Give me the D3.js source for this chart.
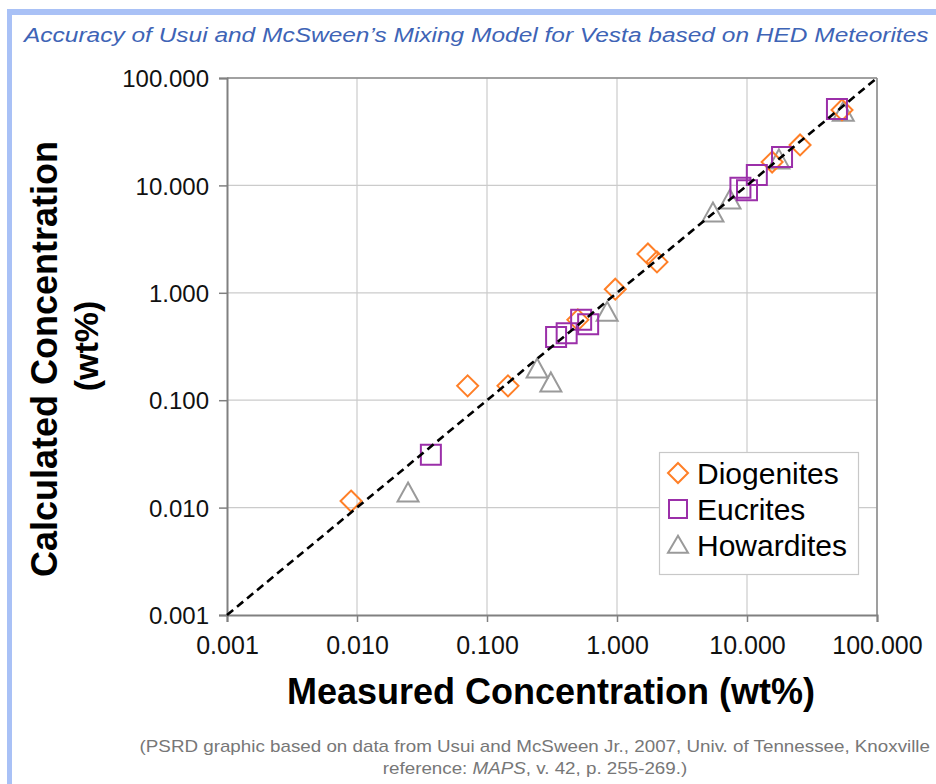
<!DOCTYPE html>
<html>
<head>
<meta charset="utf-8">
<script src="https://cdn.jsdelivr.net/npm/d3@7/dist/d3.min.js"></script>
<style>
  html, body { margin: 0; padding: 0; background: #fff; }
  svg { display: block; font-family: "Liberation Sans", Arial, sans-serif; }
</style>
</head>
<body>
<svg id="chart" width="936" height="784"></svg>
<script>
// ---- Data ----
const tickValues = [0.001, 0.01, 0.1, 1, 10, 100];
const tickLabels = ["0.001", "0.010", "0.100", "1.000", "10.000", "100.000"];

const diogenitesMeasured   = [0.009, 0.071, 0.145, 0.50, 0.97, 1.73, 2.03, 15.6, 25.6, 53.8];
const diogenitesCalculated = [0.0115, 0.136, 0.136, 0.56, 1.08, 2.30, 1.94, 16.5, 23.8, 50.4];

const eucritesMeasured   = [0.037, 0.34, 0.41, 0.53, 0.60, 8.9, 10.0, 11.9, 18.6, 49.2];
const eucritesCalculated = [0.031, 0.387, 0.42, 0.56, 0.51, 9.5, 9.0, 12.5, 18.4, 51.4];

const howarditesMeasured   = [0.0247, 0.243, 0.31, 0.84, 5.47, 7.4, 17.6, 55];
const howarditesCalculated = [0.0137, 0.195, 0.145, 0.66, 5.53, 7.31, 17.3, 48];

const oneToOne = [0.001, 100];

const seriesNames = ["Diogenites", "Eucrites", "Howardites"];

// ---- Build ----
const svg = d3.select("#chart");
const x = d3.scaleLog().domain([0.001, 100]).range([227, 877]);
const y = d3.scaleLog().domain([0.001, 100]).range([615, 78]);

// page frame (light blue)
svg.append("rect").attr("x", 7).attr("y", 9).attr("width", 929).attr("height", 6).attr("fill", "#a9c1f6");
svg.append("rect").attr("x", 7).attr("y", 9).attr("width", 5).attr("height", 775).attr("fill", "#a9c1f6");

// title (horizontally stretched like the original graphic)
svg.append("g").attr("transform", "translate(24,42) scale(1.166,1)")
  .append("text")
  .attr("x", 0).attr("y", 0)
  .attr("font-size", 21).attr("font-style", "italic")
  .attr("fill", "#3e64b6")
  .text("Accuracy of Usui and McSween\u2019s Mixing Model for Vesta based on HED Meteorites");

// gridlines
const grid = svg.append("g");
grid.selectAll("line.gx").data(tickValues.slice(1)).join("line")
  .attr("x1", d => x(d)).attr("x2", d => x(d))
  .attr("y1", y(0.001)).attr("y2", y(100))
  .attr("stroke", "#cbcbcb").attr("stroke-width", 1.2);
grid.selectAll("line.gy").data(tickValues.slice(1)).join("line")
  .attr("y1", d => y(d)).attr("y2", d => y(d))
  .attr("x1", x(0.001)).attr("x2", x(100))
  .attr("stroke", "#cbcbcb").attr("stroke-width", 1.2);

// frame top/right
svg.append("line").attr("x1", x(0.001)).attr("x2", x(100)).attr("y1", y(100)).attr("y2", y(100))
  .attr("stroke", "#8a8a8a").attr("stroke-width", 1.5);
svg.append("line").attr("x1", x(100)).attr("x2", x(100)).attr("y1", y(100)).attr("y2", y(0.001))
  .attr("stroke", "#8a8a8a").attr("stroke-width", 1.5);

// axes
const fmt = d => tickLabels[tickValues.indexOf(d)];
const xAxis = d3.axisBottom(x).tickValues(tickValues).tickFormat(fmt).tickSize(7).tickPadding(14);
const yAxis = d3.axisLeft(y).tickValues(tickValues).tickFormat(fmt).tickSize(8).tickPadding(10);

const gx = svg.append("g").attr("transform", `translate(0,${y(0.001)})`).call(xAxis);
const gy = svg.append("g").attr("transform", `translate(${x(0.001)},0)`).call(yAxis);
[gx, gy].forEach(g => {
  g.select(".domain").attr("stroke", "#808080").attr("stroke-width", 2);
  g.selectAll(".tick line").attr("stroke", "#808080").attr("stroke-width", 1.5);
  g.selectAll(".tick text").attr("font-size", 24).attr("fill", "#111")
    .attr("font-family", "'Liberation Sans', Arial, sans-serif");
});
gy.selectAll(".tick text").attr("dy", "0.36em");
gx.selectAll(".tick text").attr("font-size", 25);

// axis titles
svg.append("text")
  .attr("x", 551).attr("y", 704)
  .attr("text-anchor", "middle").attr("font-size", 36).attr("font-weight", "bold").attr("fill", "#000")
  .text("Measured Concentration (wt%)");
svg.append("text")
  .attr("transform", "translate(57,359) rotate(-90)")
  .attr("text-anchor", "middle").attr("font-size", 36).attr("font-weight", "bold").attr("fill", "#000")
  .text("Calculated Concentration");
svg.append("text")
  .attr("transform", "translate(98,346) rotate(-90)")
  .attr("text-anchor", "middle").attr("font-size", 34).attr("font-weight", "bold").attr("fill", "#000")
  .text("(wt%)");

// markers
const colors = { Diogenites: "#ff7f27", Eucrites: "#9b2fa9", Howardites: "#9a9a9a" };
function diamondPath(r) { return `M0,${-r}L${r},0L0,${r}L${-r},0Z`; }
function squarePath(h) { return `M${-h},${-h}H${h}V${h}H${-h}Z`; }
function trianglePath(w, h) { return `M0,${-h * 0.55}L${w / 2},${h * 0.45}L${-w / 2},${h * 0.45}Z`; }
const shapes = {
  Diogenites: diamondPath(10.5),
  Eucrites: squarePath(10),
  Howardites: trianglePath(21, 19)
};

const dioData = diogenitesMeasured.map((m, i) => ({ m, c: diogenitesCalculated[i] }));
const eucData = eucritesMeasured.map((m, i) => ({ m, c: eucritesCalculated[i] }));
const howData = howarditesMeasured.map((m, i) => ({ m, c: howarditesCalculated[i] }));

function drawSeries(data, name) {
  svg.append("g").selectAll("path").data(data).join("path")
    .attr("transform", d => `translate(${x(d.m)},${y(d.c)})`)
    .attr("d", shapes[name])
    .attr("fill", "none")
    .attr("stroke", colors[name])
    .attr("stroke-width", 2);
}
drawSeries(howData, "Howardites");
drawSeries(dioData, "Diogenites");
drawSeries(eucData, "Eucrites");

// 1:1 line
svg.append("line")
  .attr("x1", x(oneToOne[0])).attr("y1", y(oneToOne[0]))
  .attr("x2", x(oneToOne[1])).attr("y2", y(oneToOne[1]))
  .attr("stroke", "#000").attr("stroke-width", 2.6).attr("stroke-dasharray", "8,5");

// legend
const lg = svg.append("g");
lg.append("rect").attr("x", 659.5).attr("y", 452.5).attr("width", 199).attr("height", 122)
  .attr("fill", "#fff").attr("stroke", "#c8c8c8").attr("stroke-width", 1.2);
seriesNames.forEach((name, i) => {
  const cy = 473 + i * 36;
  lg.append("path").attr("transform", `translate(678,${cy})`)
    .attr("d", name === "Diogenites" ? diamondPath(10) : name === "Eucrites" ? squarePath(9) : trianglePath(20, 17))
    .attr("fill", "none").attr("stroke", colors[name]).attr("stroke-width", 2);
  lg.append("text").attr("x", 697).attr("y", cy + 10.5)
    .attr("font-size", 30).attr("fill", "#000").text(name);
});

// caption (horizontally stretched like the original graphic)
svg.append("g").attr("transform", "translate(930,752) scale(1.105,1)")
  .append("text").attr("x", 0).attr("y", 0).attr("text-anchor", "end")
  .attr("font-size", 17).attr("fill", "#777")
  .text("(PSRD graphic based on data from Usui and McSween Jr., 2007, Univ. of Tennessee, Knoxville");
const cap2 = svg.append("g").attr("transform", "translate(535,774) scale(1.105,1)")
  .append("text").attr("x", 0).attr("y", 0).attr("text-anchor", "middle")
  .attr("font-size", 17).attr("fill", "#777");
cap2.append("tspan").text("reference: ");
cap2.append("tspan").attr("font-style", "italic").text("MAPS");
cap2.append("tspan").text(", v. 42, p. 255-269.)");
</script>
</body>
</html>
